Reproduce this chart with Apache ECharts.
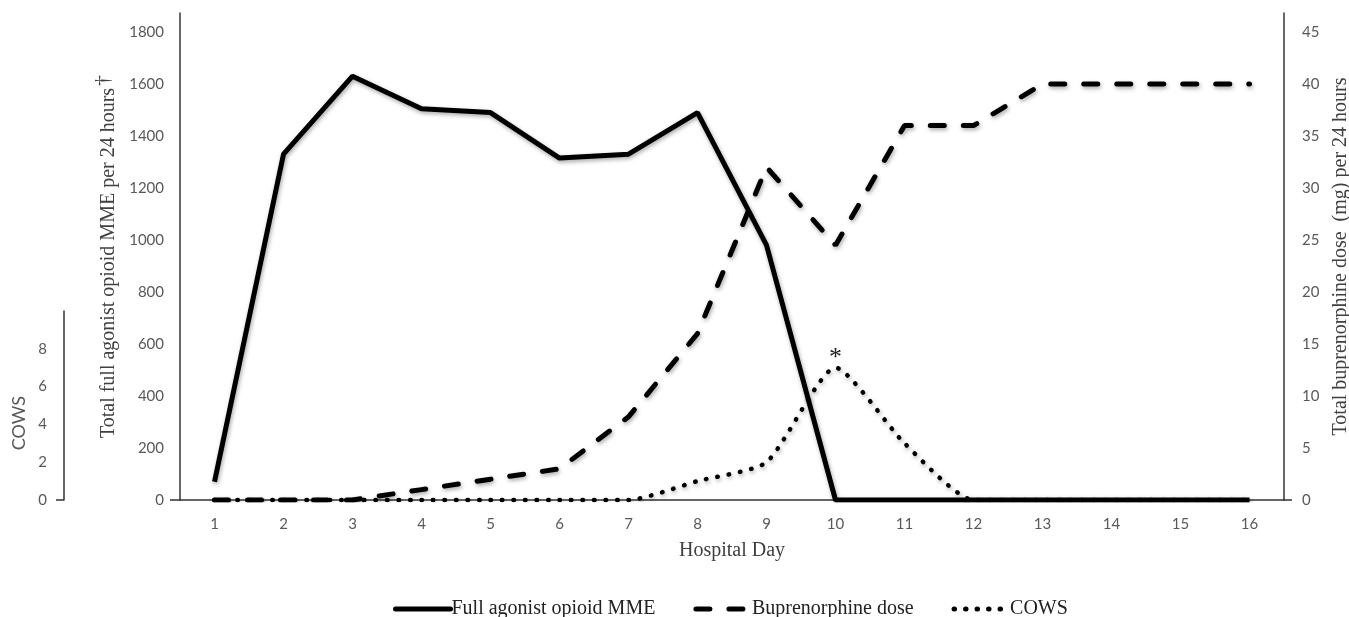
<!DOCTYPE html>
<html>
<head>
<meta charset="utf-8">
<script src="https://cdn.jsdelivr.net/npm/echarts@6/dist/echarts.min.js"></script>
<style>
html,body{margin:0;padding:0;background:#fff;overflow:hidden;}
#chart{width:1349px;height:617px;}
</style>
</head>
<body>
<div id="chart"></div>
<script>
// ---- data ----
const days = ['1','2','3','4','5','6','7','8','9','10','11','12','13','14','15','16'];
const mme = [70, 1330, 1630, 1505, 1490, 1315, 1330, 1490, 980, 0, 0, 0, 0, 0, 0, 0];
const buprenorphine = [0, 0, 0, 1, 2, 3, 8, 16, 32, 24.5, 36, 36, 40, 40, 40, 40];
const cows = [0, 0, 0, 0, 0, 0, 0, 1, 2, 7, 3, 0, 0, 0, 0, 0];
const cowsPeakDay = '10';
const seriesNames = ['Full agonist opioid MME', 'Buprenorphine dose', 'COWS'];

// ---- layout ----
const W = 1349, H = 617;
const plotTop = 13, plotBottom = 500, plotLeft = 180, plotRight = 1284;
const cowsTop = 311, cowsAxisX = 64;
const mainH = plotBottom - plotTop;
const cowsH = plotBottom - cowsTop;
const labelPx = 468; // px from 0 to top labelled tick
const mmeMax = 1800 * mainH / labelPx;
const bupMax = 45 * mainH / labelPx;
const cowsAxisMax = 10;
const cowsHiddenMax = cowsAxisMax * mainH / cowsH;

const tickFont = 'Lato, "Open Sans", sans-serif';
const serif = '"Liberation Serif", "DejaVu Serif", serif';
const axisColor = '#333';
const labelColor = '#595959';
const plain = v => String(v);

const shadow = {shadowColor:'rgba(0,0,0,0.35)', shadowBlur:4, shadowOffsetX:1, shadowOffsetY:2};

const chart = echarts.init(document.getElementById('chart'), null, {renderer:'canvas'});
chart.setOption({
  backgroundColor:'#fff',
  animation:false,
  grid:[
    {left:plotLeft, right:W-plotRight, top:plotTop, bottom:H-plotBottom, containLabel:false, outerBoundsMode:'none'},
    {left:cowsAxisX, width:1, top:cowsTop, bottom:H-plotBottom, containLabel:false, outerBoundsMode:'none'}
  ],
  legend:{
    data:seriesNames,
    top:594,
    left:388,
    itemWidth:55,
    itemHeight:14,
    itemGap:38,
    textStyle:{fontFamily:serif, fontSize:20, color:'#222', padding:[0,0,0,-4]},
    itemStyle:{color:'rgba(0,0,0,0)', borderColor:'rgba(0,0,0,0)', borderWidth:0},
    lineStyle:{width:5, cap:'round', shadowBlur:0, shadowOffsetX:0, shadowOffsetY:0}
  },
  xAxis:[
    {
      type:'category', gridIndex:0, data:days, boundaryGap:true,
      axisLine:{show:true, lineStyle:{color:axisColor, width:1.5}},
      axisTick:{show:false},
      axisLabel:{color:labelColor, fontFamily:tickFont, fontSize:15, margin:17},
      name:'Hospital Day', nameLocation:'middle', nameGap:41,
      nameTextStyle:{fontFamily:serif, fontSize:20, color:'#404040'},
      splitLine:{show:false}
    },
    {type:'value', gridIndex:1, show:false, min:0, max:1}
  ],
  yAxis:[
    {
      type:'value', gridIndex:0, position:'left', min:0, max:mmeMax, interval:200,
      axisLine:{show:true, lineStyle:{color:axisColor, width:1.5}},
      axisTick:{show:true, customValues:[0], length:10, lineStyle:{color:axisColor, width:1.5}},
      axisLabel:{color:labelColor, fontFamily:tickFont, fontSize:15, margin:16, showMaxLabel:false, formatter:plain},
      splitLine:{show:false},
      name:'{a|Total full agonist opioid MME per 24 hours}{b|†}',
      nameLocation:'middle', nameGap:49, nameRotate:90,
      nameTextStyle:{rich:{
        a:{fontFamily:serif, fontSize:20, color:'#404040'},
        b:{fontFamily:serif, fontSize:22, color:'#404040', padding:[0,0,10,2]}
      }}
    },
    {
      type:'value', gridIndex:0, position:'right', min:0, max:bupMax, interval:5,
      axisLine:{show:true, lineStyle:{color:axisColor, width:1.5}},
      axisTick:{show:true, customValues:[0], length:8, lineStyle:{color:axisColor, width:1.5}},
      axisLabel:{color:labelColor, fontFamily:tickFont, fontSize:15, margin:18, showMaxLabel:false, formatter:plain},
      splitLine:{show:false},
      name:'Total buprenorphine dose  (mg) per 24 hours',
      nameLocation:'middle', nameGap:43, nameRotate:90,
      nameTextStyle:{fontFamily:serif, fontSize:20, color:'#404040'}
    },
    {
      type:'value', gridIndex:0, show:false, min:0, max:cowsHiddenMax
    },
    {
      type:'value', gridIndex:1, position:'left', min:0, max:cowsAxisMax, interval:2,
      axisLine:{show:true, lineStyle:{color:axisColor, width:1.5}},
      axisTick:{show:true, customValues:[0], length:8, lineStyle:{color:axisColor, width:1.5}},
      axisLabel:{color:labelColor, fontFamily:tickFont, fontSize:15, margin:17, showMaxLabel:false, formatter:plain},
      splitLine:{show:false}
    }
  ],
  graphic:[
    {type:'text', left:10, top:396, rotation:Math.PI/2,
     style:{text:'COWS', fontFamily:tickFont, fontSize:18, fill:labelColor}}
  ],
  series:[
    {
      name:seriesNames[1], type:'line', xAxisIndex:0, yAxisIndex:1, data:buprenorphine,
      symbol:'none', z:3,
      lineStyle:Object.assign({color:'#000', width:5, type:[14,19], cap:'round'}, shadow),
      itemStyle:{color:'#000'}
    },
    {
      name:seriesNames[2], type:'line', xAxisIndex:0, yAxisIndex:2, data:cows,
      symbol:'none', smooth:0.2, z:4,
      lineStyle:Object.assign({color:'#000', width:4.5, type:[0.5,11], cap:'round'}, shadow),
      itemStyle:{color:'#000'},
      markPoint:{
        symbol:'circle', symbolSize:1,
        itemStyle:{color:'rgba(0,0,0,0)'},
        label:{show:true, formatter:'*', position:'top', distance:-4, fontSize:26, fontFamily:serif, color:'#222'},
        data:[{coord:[cowsPeakDay, cows[days.indexOf(cowsPeakDay)]]}]
      }
    },
    {
      name:seriesNames[0], type:'line', xAxisIndex:0, yAxisIndex:0, data:mme,
      symbol:'none', z:5,
      lineStyle:Object.assign({color:'#000', width:5, type:'solid'}, shadow),
      itemStyle:{color:'#000'}
    }
  ]
});
</script>
</body>
</html>
